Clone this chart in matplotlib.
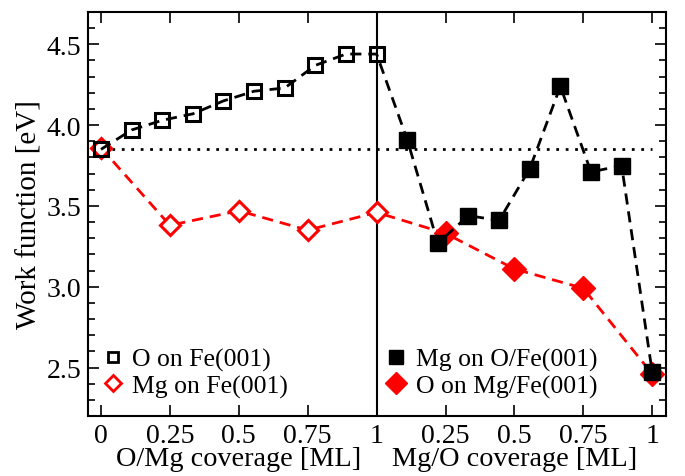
import matplotlib
matplotlib.use("Agg")
import matplotlib.pyplot as plt
from matplotlib.lines import Line2D
from matplotlib.ticker import MultipleLocator, FixedLocator

plt.rcParams['font.family'] = ['Liberation Serif', 'DejaVu Serif']

# left half: coverage 0..1, right half: second-step coverage mapped to 1..2
x_o_fe = [0, 1/9, 2/9, 3/9, 4/9, 5/9, 6/9, 7/9, 8/9, 1]
wf_o_fe = [3.85, 3.97, 4.03, 4.07, 4.15, 4.21, 4.23, 4.37, 4.44, 4.44]

x_mg_fe = [0, 0.25, 0.5, 0.75, 1]
wf_mg_fe = [3.86, 3.38, 3.47, 3.35, 3.46]

x_mg_ofe = [1, 1 + 1/9, 1 + 2/9, 1 + 3/9, 1 + 4/9, 1 + 5/9, 1 + 6/9, 1 + 7/9, 1 + 8/9, 2]
wf_mg_ofe = [4.44, 3.91, 3.27, 3.44, 3.41, 3.73, 4.24, 3.71, 3.75, 2.47]

x_o_mgfe = [1, 1.25, 1.5, 1.75, 2]
wf_o_mgfe = [3.46, 3.33, 3.11, 2.99, 2.46]

clean_fe = 3.85

xticks = [0, 0.25, 0.5, 0.75, 1, 1.25, 1.5, 1.75, 2]
xticklabels = ['0', '0.25', '0.5', '0.75', '1', '0.25', '0.5', '0.75', '1']

fig = plt.figure(figsize=(6.85, 4.77), dpi=100)
ax = fig.add_axes([0.1285, 0.1258, 0.9723 - 0.1285, 0.9727 - 0.1258])

dash = (4, 2.5)
ax.hlines(clean_fe, -0.03, 2.0, colors='black', linestyles=(0, (1, 2.4)), linewidth=2, zorder=1)
ax.axvline(1, color='black', linewidth=1.5, zorder=1)

# red line first so black markers sit on top where they overlap
ax.plot(x_mg_fe + x_o_mgfe[1:], wf_mg_fe + wf_o_mgfe[1:], color='red', linewidth=2,
        dashes=dash, zorder=2)
ax.plot(x_mg_fe, wf_mg_fe, linestyle='none', marker='D', markersize=10,
        markerfacecolor='white', markeredgecolor='red', markeredgewidth=2.2, zorder=3)
ax.plot(x_o_mgfe[1:], wf_o_mgfe[1:], linestyle='none', marker='D', markersize=12,
        color='red', zorder=3)

ax.plot(x_o_fe + x_mg_ofe[1:], wf_o_fe + wf_mg_ofe[1:], color='black', linewidth=2,
        dashes=dash, zorder=4)
ax.plot(x_o_fe, wf_o_fe, linestyle='none', marker='s', markersize=9.5,
        markerfacecolor='none', markeredgecolor='black', markeredgewidth=2.2, zorder=5)
ax.plot(x_mg_ofe[1:], wf_mg_ofe[1:], linestyle='none', marker='s', markersize=11,
        color='black', zorder=5)

ax.set_xlim(-0.047, 2.05)
ax.set_ylim(2.2, 4.7)
ax.xaxis.set_major_locator(FixedLocator(xticks))
ax.set_xticklabels(xticklabels)
ax.yaxis.set_major_locator(MultipleLocator(0.5))
ax.yaxis.set_minor_locator(MultipleLocator(0.1))
ax.yaxis.set_major_formatter(matplotlib.ticker.FormatStrFormatter('%.1f'))
ax.tick_params(which='both', direction='in', top=True, right=True, width=1.2,
               labelsize=20)
ax.tick_params(which='major', length=8, pad=5)
ax.tick_params(which='minor', length=5)
for s in ax.spines.values():
    s.set_linewidth(1.5)

ax.set_ylabel('Work function [eV]', fontsize=21, labelpad=3)
ax.text(0.5, -0.075, 'O/Mg coverage [ML]', transform=ax.get_xaxis_transform(),
        ha='center', va='top', fontsize=20.3)
ax.text(1.5, -0.075, 'Mg/O coverage [ML]', transform=ax.get_xaxis_transform(),
        ha='center', va='top', fontsize=20.3)

h_left = [Line2D([], [], linestyle='none', marker='s', markersize=7.5, markerfacecolor='none',
                 markeredgecolor='black', markeredgewidth=2),
          Line2D([], [], linestyle='none', marker='D', markersize=8, markerfacecolor='none',
                 markeredgecolor='red', markeredgewidth=2)]
leg1 = ax.legend(h_left, ['O on Fe(001)', 'Mg on Fe(001)'], loc='lower left',
                 bbox_to_anchor=(0.021, 0.045), frameon=False, fontsize=18.5,
                 handlelength=1.0, handletextpad=0.25, labelspacing=0.12,
                 borderaxespad=0, borderpad=0)
ax.add_artist(leg1)
h_right = [Line2D([], [], linestyle='none', marker='s', markersize=10, color='black'),
           Line2D([], [], linestyle='none', marker='D', markersize=11, color='red')]
ax.legend(h_right, ['Mg on O/Fe(001)', 'O on Mg/Fe(001)'], loc='lower left',
          bbox_to_anchor=(0.51, 0.045), frameon=False, fontsize=18.5,
          handlelength=1.0, handletextpad=0.3, labelspacing=0.12,
          borderaxespad=0, borderpad=0)

fig.savefig('out.png', dpi=100)
